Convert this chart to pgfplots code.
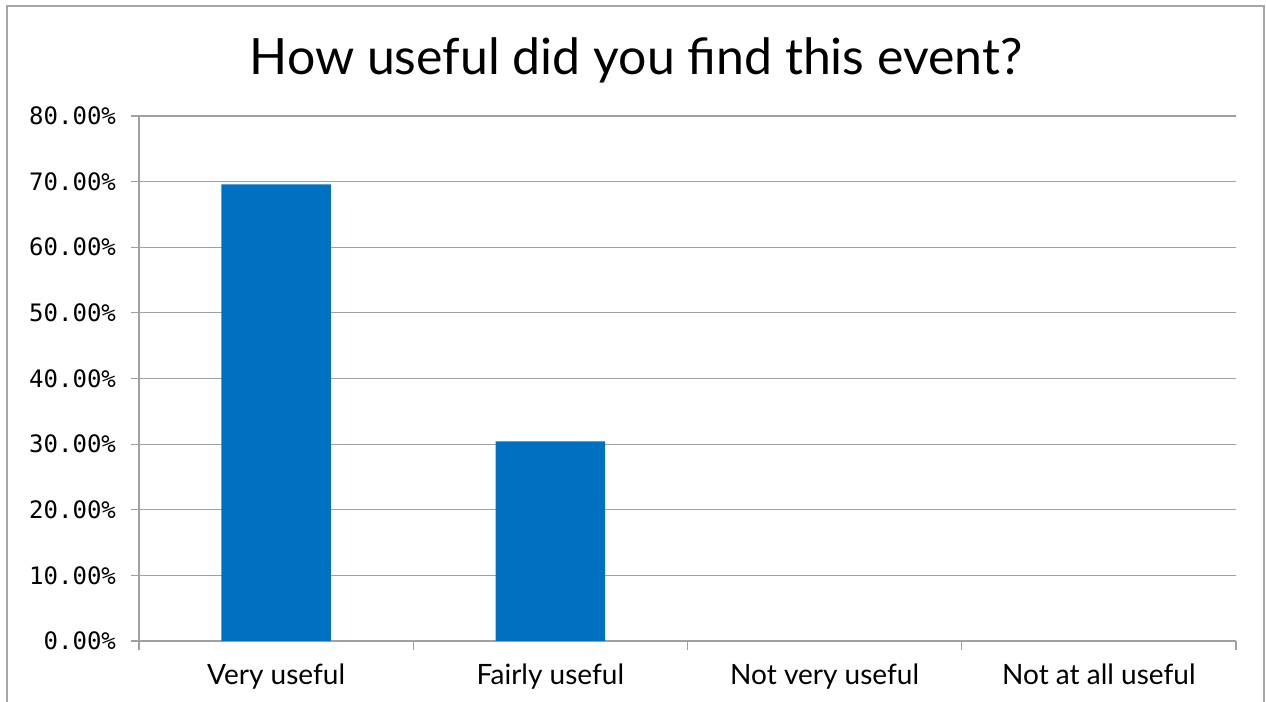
\documentclass[border=0pt]{standalone}
\usepackage{pgfplots}
\pgfplotsset{compat=1.18}
\usepackage{fontspec}
\setmainfont{Lato}
\newfontfamily\monofont{DejaVu Sans Mono}
\definecolor{barblue}{HTML}{0070C0}
\definecolor{framegray}{HTML}{A6A6A6}
\definecolor{gridgray}{HTML}{A0A0A0}
\begin{document}
\begin{tikzpicture}
\useasboundingbox (-69.5pt,-30.5pt) rectangle (563.5pt,320.5pt);
\draw[framegray, line width=1pt] (-66pt,-45pt) -- (-66pt,317.5pt) -- (562.5pt,317.5pt) -- (562.5pt,-45pt);
\begin{axis}[
  at={(0,0)}, anchor=south west,
  scale only axis,
  width=548.5pt, height=262.5pt,
  xmin=-0.5, xmax=3.5,
  ymin=0, ymax=80,
  /pgf/number format/assume math mode=true,
  axis x line*=bottom, axis y line*=left,
  axis line style={gridgray, line width=0.6pt, -},
  ytick={0,10,...,80},
  yticklabel={\pgfmathprintnumber[fixed,fixed zerofill,precision=2]{\tick}\%},
  yticklabel style={font=\monofont\fontsize{12}{14}\selectfont, text=black, xshift=-4pt},
  ymajorgrids,
  major grid style={gridgray, line width=0.6pt},
  xtick={0,1,2,3},
  xticklabels={Very useful, Fairly useful, Not very useful, Not at all useful},
  xticklabel style={font=\fontsize{14}{16}\selectfont, text=black, yshift=-4pt},
  minor xtick={-0.5,0.5,1.5,2.5,3.5},
  tick align=outside,
  major tick length=4pt,
  minor tick length=4.5pt,
  xtick style={draw=none},
  minor x tick style={draw=gridgray, line width=0.6pt},
  ytick style={draw=gridgray, line width=0.6pt},
  ybar, bar width=0.4,
  clip=false,
]
\addplot[fill=barblue, draw=none] coordinates {(0,69.57) (1,30.43)};
\end{axis}
\node[anchor=base, font=\fontsize{25}{30}\selectfont] at (248.5pt,283pt) {How useful did you find this event?};
\end{tikzpicture}
\end{document}
